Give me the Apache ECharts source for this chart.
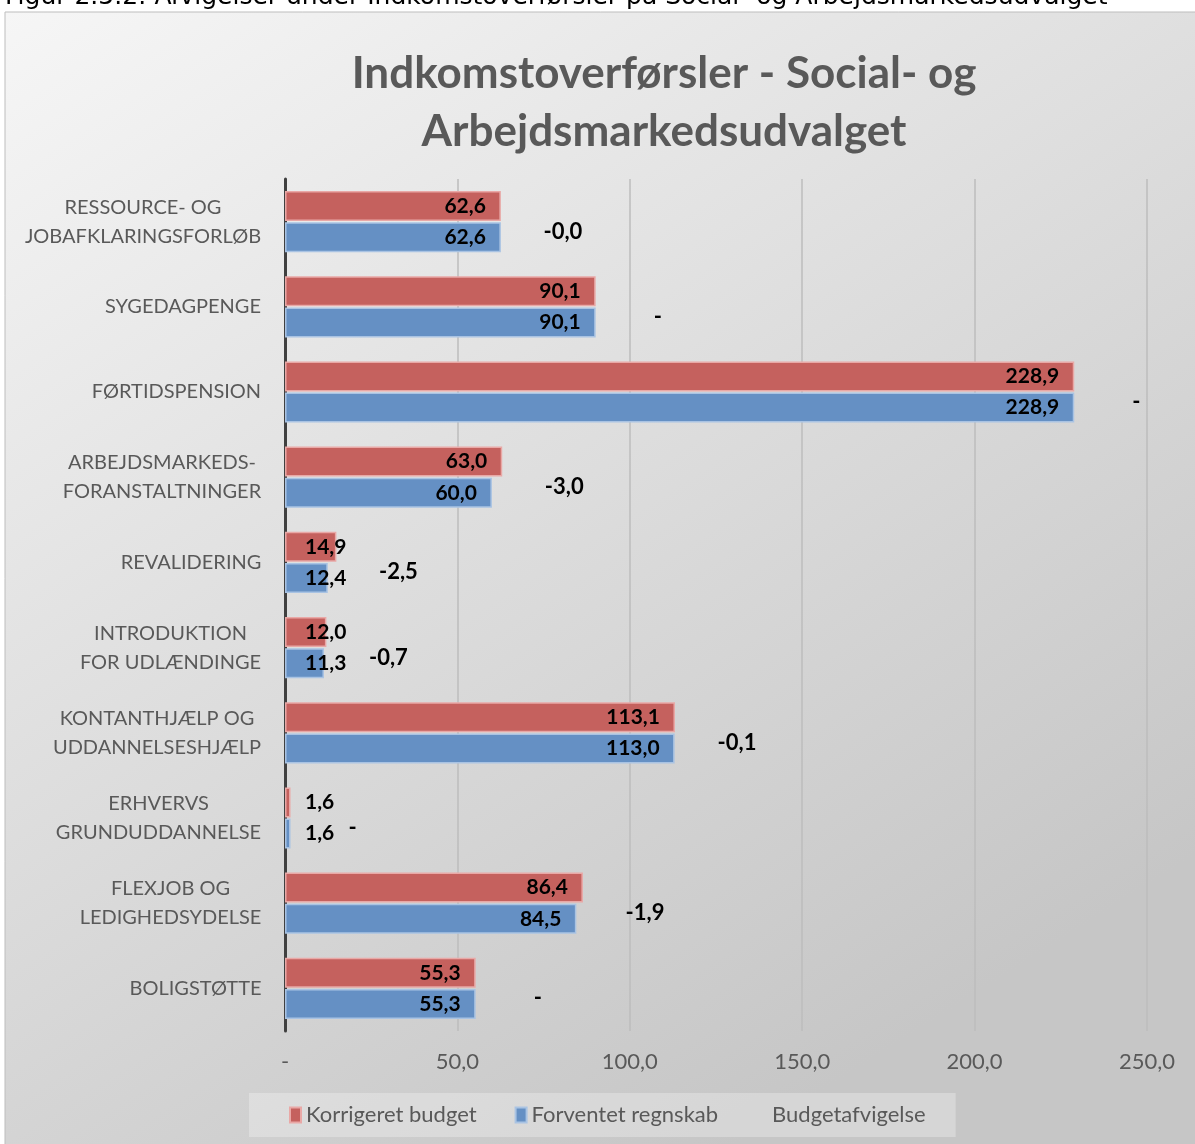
<!DOCTYPE html>
<html>
<head>
<meta charset="utf-8">
<script src="https://cdn.jsdelivr.net/npm/echarts@6/dist/echarts.min.js"></script>
<style>
html,body{margin:0;padding:0;background:#fff;}
#chart{width:1195px;height:1144px;}
</style>
</head>
<body>
<div id="chart"></div>
<script>
// ---- data ----
const categories = [
  'RESSOURCE- OG\nJOBAFKLARINGSFORLØB',
  'SYGEDAGPENGE',
  'FØRTIDSPENSION',
  'ARBEJDSMARKEDS-\nFORANSTALTNINGER',
  'REVALIDERING',
  'INTRODUKTION\nFOR UDLÆNDINGE',
  'KONTANTHJÆLP OG\nUDDANNELSESHJÆLP',
  'ERHVERVS\nGRUNDUDDANNELSE',
  'FLEXJOB OG\nLEDIGHEDSYDELSE',
  'BOLIGSTØTTE'
];
const korrigeretBudget = [62.6, 90.1, 228.9, 63.0, 14.9, 12.0, 113.1, 1.6, 86.4, 55.3];
const forventetRegnskab = [62.6, 90.1, 228.9, 60.0, 12.4, 11.3, 113.0, 1.6, 84.5, 55.3];
const budgetafvigelse = [-0.04, 0, 0, -3.0, -2.5, -0.7, -0.1, 0, -1.9, 0];
const xTicks = [0, 50, 100, 150, 200, 250];
const seriesNames = ['Korrigeret budget', 'Forventet regnskab', 'Budgetafvigelse'];
const titleText = 'Indkomstoverførsler - Social- og\nArbejdsmarkedsudvalget';
const captionText = 'Figur 2.5.2: Afvigelser under Indkomstoverførsler på Social- og Arbejdsmarkedsudvalget';

// ---- helpers ----
const FONT = 'Lato';
const CAT_SIZE = 20;
function fmt(v) {
  if (v === 0) return '-';
  return v.toFixed(1).replace('.', ',');
}
const measureCtx = document.createElement('canvas').getContext('2d');
measureCtx.font = CAT_SIZE + 'px ' + FONT;
function maxLineWidth(s) {
  return Math.max.apply(null, s.split('\n').map(l => measureCtx.measureText(l).width));
}
function barLabelData(arr) {
  return arr.map(v => v < 20
    ? { value: v, label: { position: 'insideLeft', distance: 20 } }
    : { value: v });
}
const labelGap = 18; // units beyond the longer bar for the deviation label
const afvigelsePoints = budgetafvigelse.map((d, i) =>
  [Math.max(korrigeretBudget[i], forventetRegnskab[i]) + labelGap, categories[i], d]);
const yData = categories.map(c => ({
  value: c,
  textStyle: {
    rich: { c: { width: Math.ceil(maxLineWidth(c)) + 1, align: 'center', fontFamily: FONT,
                 fontSize: CAT_SIZE, color: '#595959', lineHeight: 29 } }
  }
}));

const chart = echarts.init(document.getElementById('chart'), null, { renderer: 'canvas' });

const valueLabel = {
  show: true,
  position: 'insideRight',
  distance: 15,
  color: '#000',
  fontFamily: FONT,
  fontWeight: 'bold',
  fontSize: 21,
  formatter: p => fmt(p.value)
};

chart.setOption({
  backgroundColor: '#ffffff',
  animation: false,
  textStyle: { fontFamily: FONT },
  graphic: [
    {
      type: 'rect', z: -10, silent: true,
      shape: { x: 5, y: 12, width: 1200, height: 1140 },
      style: {
        fill: new echarts.graphic.LinearGradient(0, 0, 0.6, 1, [
          { offset: 0, color: '#f6f6f6' },
          { offset: 1, color: '#c6c6c6' }
        ]),
        stroke: '#bdbdbd', lineWidth: 1
      }
    },
    {
      type: 'text', z: 10, silent: true,
      left: 5, top: -15,
      style: {
        text: captionText,
        font: '25px "DejaVu Sans"',
        fill: '#000'
      }
    }
  ],
  title: {
    text: titleText,
    left: 659,
    top: 40,
    textAlign: 'center',
    textStyle: {
      fontFamily: FONT,
      fontWeight: 'bold',
      fontSize: 44,
      lineHeight: 58,
      color: '#595959'
    }
  },
  legend: {
    left: 249,
    top: 1093,
    padding: [11, 30, 11, 40],
    backgroundColor: 'rgba(255,255,255,0.28)',
    itemGap: 38,
    itemWidth: 11,
    itemHeight: 15,
    textStyle: { fontFamily: FONT, fontSize: 22, color: '#595959' },
    data: [
      { name: seriesNames[0], icon: 'rect' },
      { name: seriesNames[1], icon: 'rect' },
      { name: seriesNames[2], icon: 'none' }
    ]
  },
  grid: { left: 285, right: 48, top: 179, bottom: 113, containLabel: false },
  xAxis: {
    type: 'value',
    min: xTicks[0],
    max: xTicks[xTicks.length - 1],
    interval: xTicks[1] - xTicks[0],
    axisLine: { show: false },
    axisTick: { show: false },
    splitLine: { show: true, lineStyle: { color: '#bcbcbc', width: 1.5 } },
    axisLabel: {
      margin: 20,
      fontFamily: FONT,
      fontSize: 22,
      color: '#595959',
      formatter: v => fmt(v)
    }
  },
  yAxis: {
    type: 'category',
    inverse: true,
    data: yData,
    axisLine: { show: true, lineStyle: { color: '#404040', width: 3 } },
    axisTick: { show: false },
    axisLabel: {
      margin: 23,
      align: 'right',
      fontFamily: FONT,
      fontSize: CAT_SIZE,
      lineHeight: 29,
      color: '#595959',
      formatter: v => v.split('\n').map(l => '{c|' + l + '}').join('\n')
    }
  },
  series: [
    {
      name: seriesNames[0],
      type: 'bar',
      data: barLabelData(korrigeretBudget),
      barWidth: 30,
      barGap: '4%',
      itemStyle: { color: '#c5615e', borderColor: '#e9a8a6', borderWidth: 1.5 },
      label: valueLabel
    },
    {
      name: seriesNames[1],
      type: 'bar',
      data: barLabelData(forventetRegnskab),
      barWidth: 30,
      barGap: '4%',
      itemStyle: { color: '#6590c4', borderColor: '#a9c3e3', borderWidth: 1.5 },
      label: valueLabel
    },
    {
      name: seriesNames[2],
      type: 'scatter',
      symbolSize: 1,
      data: afvigelsePoints,
      encode: { x: 0, y: 1 },
      itemStyle: { color: 'rgba(0,0,0,0)', opacity: 1 },
      label: {
        show: true,
        position: 'inside',
        offset: [0, 10],
        color: '#000',
        fontFamily: FONT,
        fontWeight: 'bold',
        fontSize: 22,
        formatter: p => fmt(p.value[2])
      }
    }
  ]
});
</script>
</body>
</html>
